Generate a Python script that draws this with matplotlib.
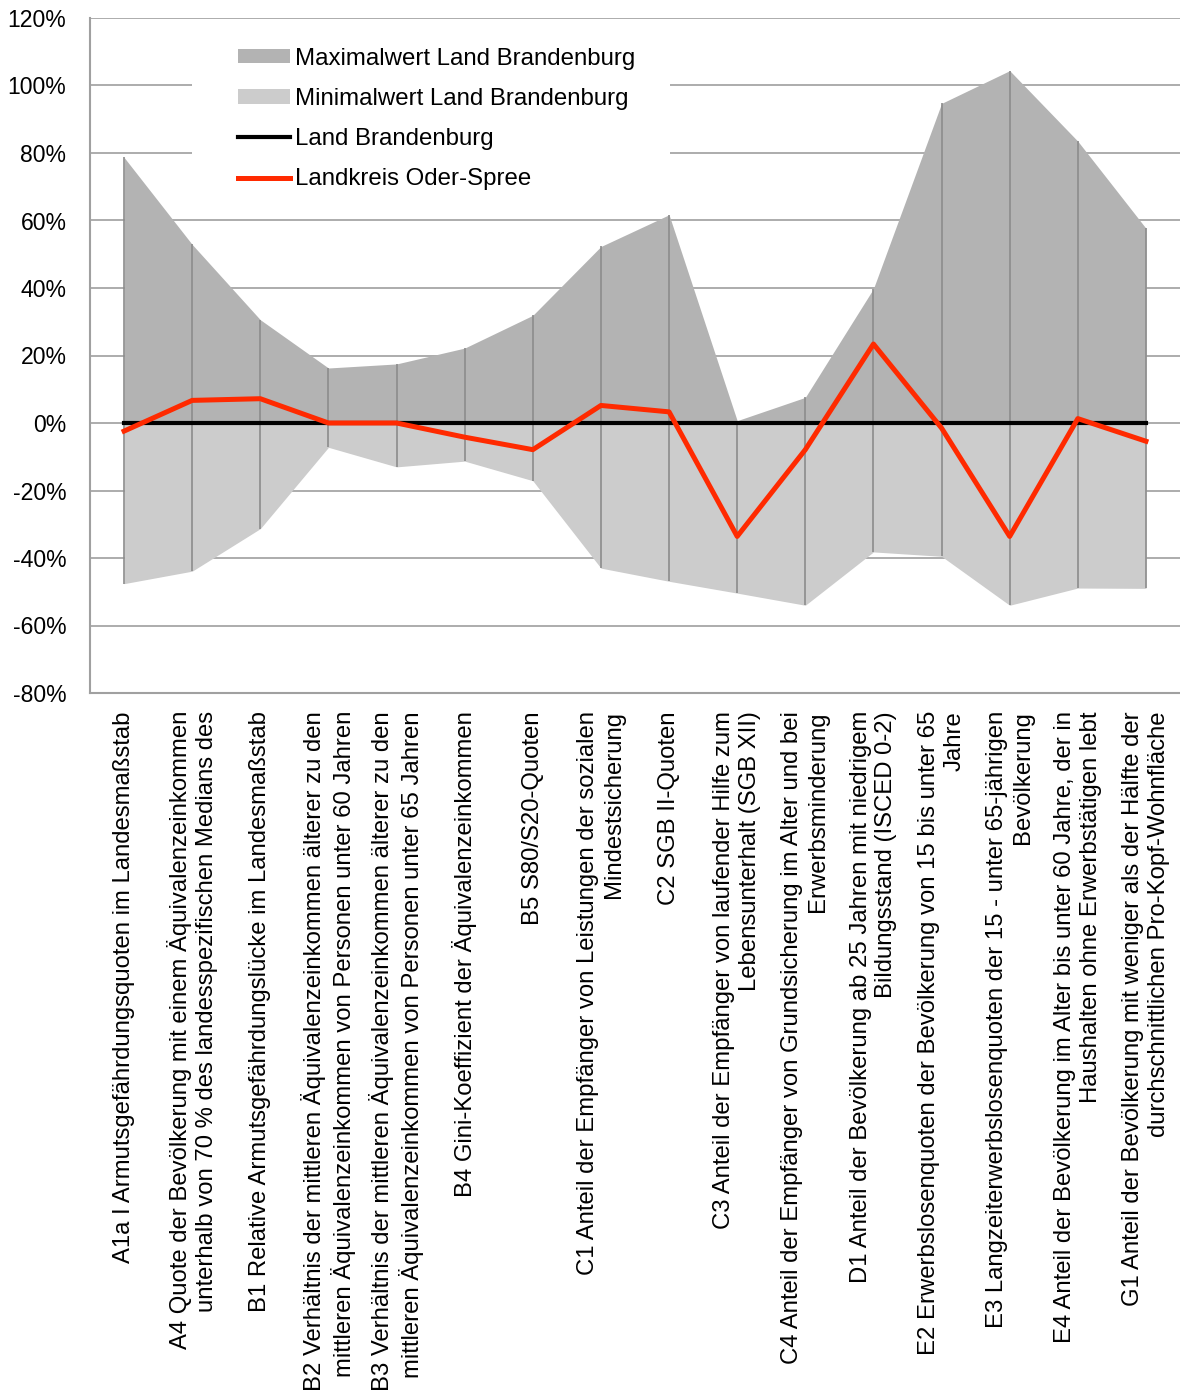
import numpy as np
import matplotlib
matplotlib.use("Agg")
from matplotlib import pyplot as plt
from matplotlib.patches import Patch, Rectangle
from matplotlib.lines import Line2D
from matplotlib.ticker import FuncFormatter

plt.rcParams['font.family'] = ['Liberation Sans', 'DejaVu Sans']

labels = [
    "A1a I Armutsgefährdungsquoten im Landesmaßstab",
    "A4 Quote der Bevölkerung mit einem Äquivalenzeinkommen\nunterhalb von 70 % des landesspezifischen Medians des",
    "B1 Relative Armutsgefährdungslücke im Landesmaßstab",
    "B2 Verhältnis der mittleren Äquivalenzeinkommen älterer zu den\nmittleren Äquivalenzeinkommen von Personen unter 60 Jahren",
    "B3 Verhältnis der mittleren Äquivalenzeinkommen älterer zu den\nmittleren Äquivalenzeinkommen von Personen unter 65 Jahren",
    "B4 Gini-Koeffizient der Äquivalenzeinkommen",
    "B5 S80/S20-Quoten",
    "C1 Anteil der Empfänger von Leistungen der sozialen\nMindestsicherung",
    "C2 SGB II-Quoten",
    "C3 Anteil der Empfänger von laufender Hilfe zum\nLebensunterhalt (SGB XII)",
    "C4 Anteil der Empfänger von Grundsicherung im Alter und bei\nErwerbsminderung",
    "D1 Anteil der Bevölkerung ab 25 Jahren mit niedrigem\nBildungsstand (ISCED 0-2)",
    "E2 Erwerbslosenquoten der Bevölkerung von 15 bis unter 65\nJahre",
    "E3 Langzeiterwerbslosenquoten der 15 - unter 65-jährigen\nBevölkerung",
    "E4 Anteil der Bevölkerung im Alter bis unter 60 Jahre, der in\nHaushalten ohne Erwerbstätigen lebt",
    "G1 Anteil der Bevölkerung mit weniger als der Hälfte der\ndurchschnittlichen Pro-Kopf-Wohnfläche",
]

# values in percent (deviation from Land Brandenburg)
max_land = [78.7, 52.9, 30.6, 16.3, 17.5, 22.2, 31.9, 52.3, 61.7, 0.7, 7.6, 39.8, 94.7, 104.4, 83.5, 57.7]
min_land = [-47.6, -43.9, -31.3, -7.2, -13.0, -11.3, -17.1, -43.0, -46.9, -50.4, -54.0, -38.2, -39.5, -54.0, -48.9, -49.0]
land_bb = [0] * 16
oder_spree = [-2.4, 6.7, 7.2, 0.0, 0.0, -4.2, -7.9, 5.2, 3.3, -33.6, -7.9, 23.4, -1.5, -33.6, 1.3, -5.4]

x = np.arange(len(labels))

fig = plt.figure(figsize=(11.8, 13.93), dpi=100)
ax = fig.add_axes([90 / 1180, 1 - 693 / 1393, 1090 / 1180, 675 / 1393])

ax.fill_between(x, 0, max_land, color='#b3b3b3', lw=0, zorder=1)
ax.fill_between(x, 0, min_land, color='#cccccc', lw=0, zorder=1)
ax.vlines(x, min_land, max_land, color='#8c8c8c', lw=1.2, zorder=2)
ax.plot(x, land_bb, color='black', lw=3, zorder=3)
ax.plot(x, oder_spree, color='#ff2a00', lw=3.6, zorder=4)

ax.set_xlim(-0.5, 15.5)
ax.set_ylim(-80, 120)
ax.set_yticks(np.arange(-80, 121, 20))
ax.yaxis.set_major_formatter(FuncFormatter(lambda v, p: f"{v:.0f}%"))
ax.set_axisbelow(True)
ax.grid(axis='y', color='#a6a6a6', lw=1.3, zorder=0)
ax.tick_params(axis='y', length=0, pad=17, labelsize=16.6)
ax.tick_params(axis='x', length=0, pad=13)
ax.set_xticks(x)
ax.set_xticklabels(labels, rotation=90, ha='center', va='top',
                   multialignment='right', fontsize=17.2, linespacing=1.22)
for s in ['top', 'right']:
    ax.spines[s].set_visible(False)
for s in ['left', 'bottom']:
    ax.spines[s].set_color('#a0a0a0')
    ax.spines[s].set_linewidth(1.5)

# white box behind the legend (hides gridlines)
ax.add_patch(Rectangle((0.094, 0.73), 0.438, 0.25, transform=ax.transAxes,
                       facecolor='white', edgecolor='none', zorder=0.8))

handles = [
    Patch(facecolor='#b3b3b3', edgecolor='none'),
    Patch(facecolor='#cccccc', edgecolor='none'),
    Line2D([], [], color='black', lw=3),
    Line2D([], [], color='#ff2a00', lw=3.6),
]
names = ["Maximalwert Land Brandenburg", "Minimalwert Land Brandenburg",
         "Land Brandenburg", "Landkreis Oder-Spree"]
ax.legend(handles, names, loc='upper left', bbox_to_anchor=(0.136, 0.956),
          frameon=False, fontsize=17.3, borderpad=0, borderaxespad=0,
          handlelength=2.15, handleheight=0.55, handletextpad=0.2, labelspacing=0.76)

fig.savefig('out.png', dpi=100)
